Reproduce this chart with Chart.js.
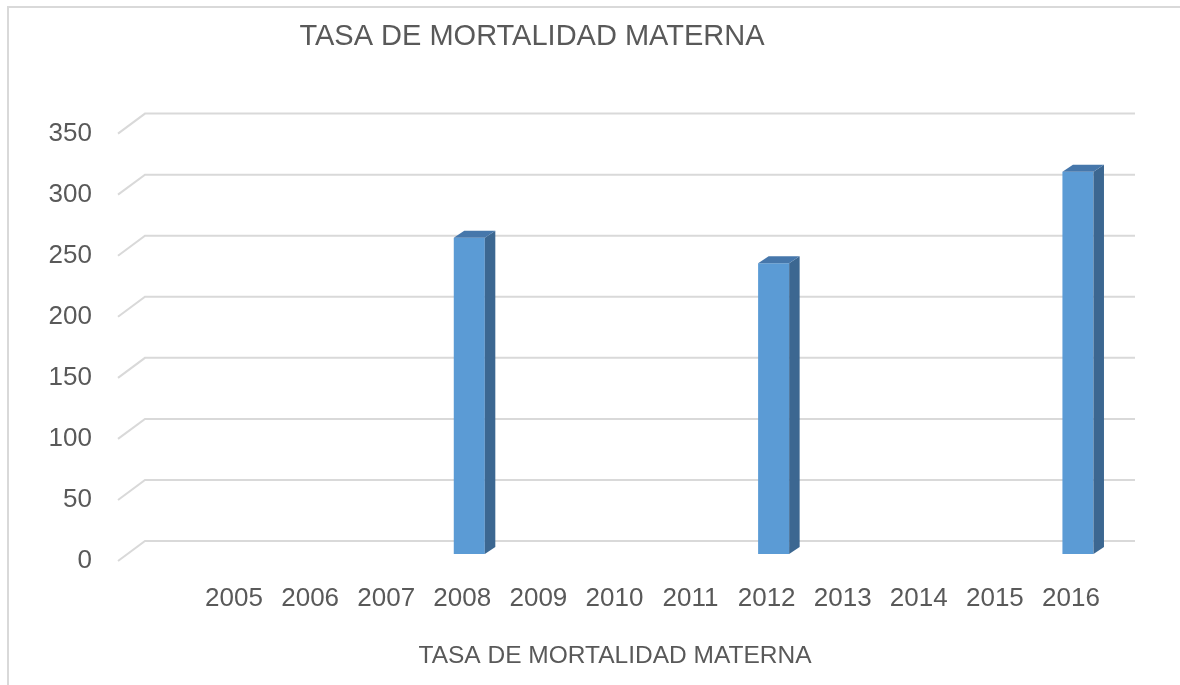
<!DOCTYPE html>
<html lang="es">
<head>
    <meta charset="UTF-8">
    <title>Tasa de Mortalidad Materna</title>
    <script src="https://cdn.jsdelivr.net/npm/chart.js@4.4.1/dist/chart.umd.min.js"></script>
    <style>
        body {
            margin: 0;
            background-color: white;
        }
        .chart-box {
            position: relative;
            width: 1180px;
            height: 685px;
        }
    </style>
</head>
<body>
    <div class="chart-box">
        <canvas id="mortalidadChart"></canvas>
    </div>

    <script>
        // Data
        const years = ['2005', '2006', '2007', '2008', '2009', '2010', '2011', '2012', '2013', '2014', '2015', '2016'];
        const tasa = [null, null, null, 259, null, null, null, 238, null, null, null, 313];
        const chartTitle = 'TASA DE MORTALIDAD MATERNA';
        const axisTitle = 'TASA DE MORTALIDAD MATERNA';

        const textColor = '#595959';
        const gridColor = '#d9d9d9';
        const fontFamily = '"Liberation Sans", Arial, sans-serif';

        // fake 3D look: slanted gridlines, frame, titles, bar side/top faces
        const excel3d = {
            id: 'excel3d',
            beforeDraw(chart) {
                const ctx = chart.ctx;
                ctx.save();
                ctx.fillStyle = 'white';
                ctx.fillRect(0, 0, chart.width, chart.height);
                ctx.strokeStyle = gridColor;
                ctx.lineWidth = 2;
                ctx.beginPath();
                ctx.moveTo(8, chart.height);
                ctx.lineTo(8, 7);
                ctx.lineTo(chart.width, 7);
                ctx.stroke();

                ctx.fillStyle = textColor;
                ctx.textAlign = 'center';
                ctx.textBaseline = 'alphabetic';
                ctx.font = '29px ' + fontFamily;
                ctx.fillText(chartTitle, 532, 45);
                ctx.font = '24.5px ' + fontFamily;
                ctx.fillText(axisTitle, 615, 663);
                ctx.restore();
            },
            beforeDatasetsDraw(chart) {
                const ctx = chart.ctx;
                const y = chart.scales.y;
                const area = chart.chartArea;
                ctx.save();
                ctx.strokeStyle = gridColor;
                ctx.lineWidth = 2;
                y.ticks.forEach(t => {
                    const py = y.getPixelForValue(t.value);
                    ctx.beginPath();
                    ctx.moveTo(area.left - 85, py + 7);
                    ctx.lineTo(area.left - 58, py - 13);
                    ctx.lineTo(area.right + 19, py - 13);
                    ctx.stroke();
                });
                ctx.restore();
            },
            afterDatasetsDraw(chart) {
                const ctx = chart.ctx;
                const dx = 10.5, dy = -7;
                ctx.save();
                chart.getDatasetMeta(0).data.forEach((bar, i) => {
                    if (tasa[i] == null) return;
                    const x0 = bar.x - bar.width / 2;
                    const x1 = bar.x + bar.width / 2;
                    const yt = bar.y;
                    const yb = bar.base;
                    // side face
                    ctx.fillStyle = '#3c6791';
                    ctx.beginPath();
                    ctx.moveTo(x1, yt);
                    ctx.lineTo(x1 + dx, yt + dy);
                    ctx.lineTo(x1 + dx, yb + dy);
                    ctx.lineTo(x1, yb);
                    ctx.closePath();
                    ctx.fill();
                    // top face
                    ctx.fillStyle = '#4677ab';
                    ctx.beginPath();
                    ctx.moveTo(x0, yt);
                    ctx.lineTo(x1, yt);
                    ctx.lineTo(x1 + dx, yt + dy);
                    ctx.lineTo(x0 + dx, yt + dy);
                    ctx.closePath();
                    ctx.fill();
                });
                ctx.restore();
            }
        };

        new Chart(document.getElementById('mortalidadChart'), {
            type: 'bar',
            data: {
                labels: years,
                datasets: [{
                    label: axisTitle,
                    data: tasa,
                    backgroundColor: '#5b9bd5',
                    borderWidth: 0,
                    barPercentage: 0.408,
                    categoryPercentage: 1
                }]
            },
            options: {
                responsive: true,
                maintainAspectRatio: false,
                animation: false,
                layout: {
                    padding: { top: 126, right: 64, left: 0, bottom: 0 }
                },
                plugins: {
                    legend: { display: false },
                    title: { display: false },
                    tooltip: { enabled: false }
                },
                scales: {
                    x: {
                        grid: { display: false, drawTicks: false },
                        border: { display: false },
                        ticks: {
                            color: textColor,
                            font: { family: fontFamily, size: 26 },
                            padding: 29,
                            labelOffset: -7,
                            maxRotation: 0
                        },
                        afterFit(scale) { scale.height = 131; }
                    },
                    y: {
                        min: 0,
                        max: 350,
                        grid: { display: false, drawTicks: false },
                        border: { display: false },
                        ticks: {
                            stepSize: 50,
                            color: textColor,
                            font: { family: fontFamily, size: 26 },
                            padding: 111,
                            labelOffset: 7
                        },
                        afterFit(scale) { scale.width = 203; }
                    }
                }
            },
            plugins: [excel3d]
        });
    </script>
</body>
</html>
